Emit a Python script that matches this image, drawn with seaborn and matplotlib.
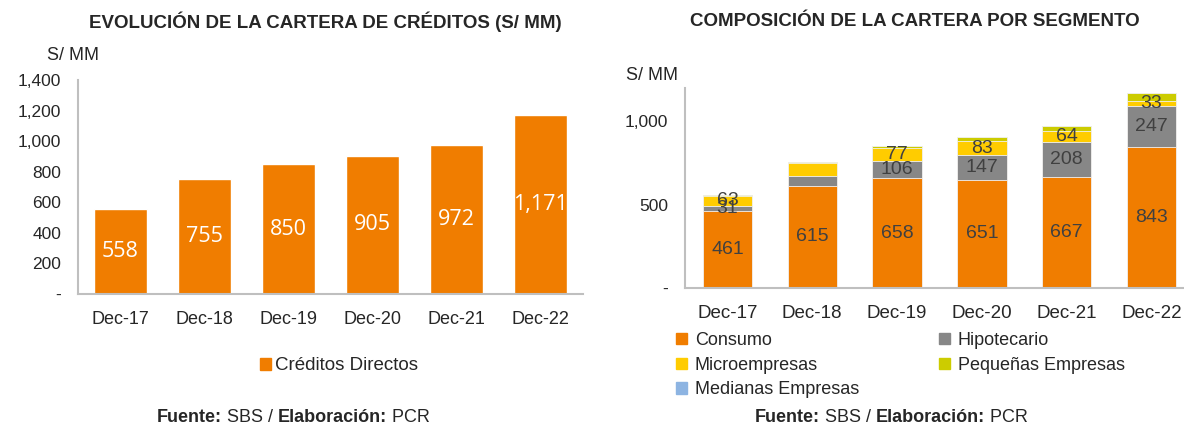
import numpy as np
import matplotlib
matplotlib.use("Agg")
import matplotlib.pyplot as plt
from matplotlib.patches import Patch
from matplotlib.ticker import FuncFormatter
import seaborn as sns

# ---- data ----
periods = ["Dec-17", "Dec-18", "Dec-19", "Dec-20", "Dec-21", "Dec-22"]
creditos_directos = [558, 755, 850, 905, 972, 1171]

segments = ["Consumo", "Hipotecario", "Microempresas", "Pequeñas Empresas", "Medianas Empresas"]
consumo = [461, 615, 658, 651, 667, 843]
hipotecario = [31, 56, 106, 147, 208, 247]
microempresas = [63, 80, 77, 83, 64, 33]
pequenas = [3, 4, 8, 24, 31, 48]
medianas = [0, 0, 1, 0, 2, 0]
# which stack segments get a value label (Dec-18 only shows Consumo)
show_label = {
    "Consumo": [True] * 6,
    "Hipotecario": [True, False, True, True, True, True],
    "Microempresas": [True, False, True, True, True, True],
}

ORANGE = "#F07D00"
seg_colors = ["#F07D00", "#878787", "#FFCC00", "#CCCC00", "#8DB4E2"]
AXIS_GRAY = "#BFBFBF"
W, H = 1184, 426

sns.set_style("white")
plt.rcParams["font.family"] = ["Liberation Sans", "DejaVu Sans"]

fig = plt.figure(figsize=(W / 100, H / 100), dpi=100)


def px_axes(x0, y0, x1, y1):
    """Axes from pixel box (top-left origin)."""
    return fig.add_axes([x0 / W, 1 - y1 / H, (x1 - x0) / W, (y1 - y0) / H])


def style_axes(ax, ymax, ystep, xsize):
    ax.set_xlim(-0.5, 5.5)
    ax.set_ylim(0, ymax)
    ax.set_yticks(np.arange(0, ymax + 1, ystep))
    ax.yaxis.set_major_formatter(FuncFormatter(lambda v, p: "-" if v == 0 else f"{v:,.0f}"))
    for s in ["top", "right"]:
        ax.spines[s].set_visible(False)
    for s in ["left", "bottom"]:
        ax.spines[s].set_color(AXIS_GRAY)
        ax.spines[s].set_linewidth(1.5)
    ax.set_xlabel("")
    ax.set_ylabel("")
    ax.set_xticks(np.arange(-0.5, 6, 1), minor=True)
    ax.tick_params(axis="x", which="major", length=0, pad=12, labelsize=xsize)
    ax.tick_params(axis="x", which="minor", length=5, width=1.5, color=AXIS_GRAY, direction="out")
    ax.tick_params(axis="y", length=4, width=1.5, color=AXIS_GRAY, labelsize=12.5, pad=8)


def rich_line(xc, y, parts, size=13):
    """Centered line made of (text, weight) pieces."""
    r = fig.canvas.get_renderer()
    texts = [fig.text(0, 0, t, fontsize=size, fontweight=w, va="center") for t, w in parts]
    widths = [t.get_window_extent(r).width for t in texts]
    x = xc - sum(widths) / 2
    for t, w in zip(texts, widths):
        t.set_position((x / W, 1 - y / H))
        x += w


# ---- left: total portfolio ----
ax1 = px_axes(78, 80, 583, 294)
sns.barplot(x=periods, y=creditos_directos, color=ORANGE, saturation=1, width=0.63, ax=ax1)
style_axes(ax1, 1400, 200, 13)
for i, v in enumerate(creditos_directos):
    ax1.text(i, v / 2, f"{v:,}", ha="center", va="center", color="white", fontsize=15.5,
             family=["Open Sans", "DejaVu Sans"])
ax1.legend(handles=[Patch(color=ORANGE, label="Créditos Directos")], loc="center",
           bbox_to_anchor=(339 / W, 1 - 366 / H), bbox_transform=fig.transFigure,
           frameon=False, fontsize=13.5, handlelength=0.6, handleheight=0.6, handletextpad=0.2)

fig.text(325 / W, 1 - 22 / H, "EVOLUCIÓN DE LA CARTERA DE CRÉDITOS (S/ MM)",
         ha="center", va="center", fontsize=13.5, fontweight="bold")
fig.text(47 / W, 1 - 55 / H, "S/ MM", ha="left", va="center", fontsize=13)

# ---- right: composition by segment (stacked) ----
ax2 = px_axes(685, 88, 1194, 288)
layers = [consumo, hipotecario, microempresas, pequenas, medianas]
cum = np.cumsum(np.array(layers, dtype=float), axis=0)
for k in range(len(layers) - 1, -1, -1):
    sns.barplot(x=periods, y=cum[k], color=seg_colors[k], saturation=1, width=0.58,
                edgecolor="#F2F2F2", linewidth=0.6, ax=ax2)
style_axes(ax2, 1200, 500, 13.5)
for k, name in enumerate(segments):
    if name not in show_label:
        continue
    for i, v in enumerate(layers[k]):
        if show_label[name][i]:
            ax2.text(i, cum[k][i] - v / 2, f"{v}", ha="center", va="center",
                     color="#404040", fontsize=14)

order = [0, 2, 4, 1, 3]
handles = [Patch(color=seg_colors[k], label=segments[k]) for k in order]
ax2.legend(handles=handles, ncol=2, loc="upper left",
           bbox_to_anchor=(667 / W, 1 - 323 / H), bbox_transform=fig.transFigure,
           frameon=False, fontsize=13, handlelength=0.6, handleheight=0.6,
           handletextpad=0.45, columnspacing=4.4, labelspacing=0.42, borderpad=0)

fig.text(915 / W, 1 - 22 / H, "COMPOSICIÓN DE LA CARTERA POR SEGMENTO",
         ha="center", va="center", fontsize=13.5, fontweight="bold")
fig.text(626 / W, 1 - 76 / H, "S/ MM", ha="left", va="center", fontsize=13)

rich_line(293, 417, [("Fuente:", "bold"), (" SBS / ", "normal"), ("Elaboración:", "bold"), (" PCR", "normal")])
rich_line(891, 418, [("Fuente:", "bold"), (" SBS / ", "normal"), ("Elaboración:", "bold"), (" PCR", "normal")])

fig.savefig("out.png", dpi=100)
